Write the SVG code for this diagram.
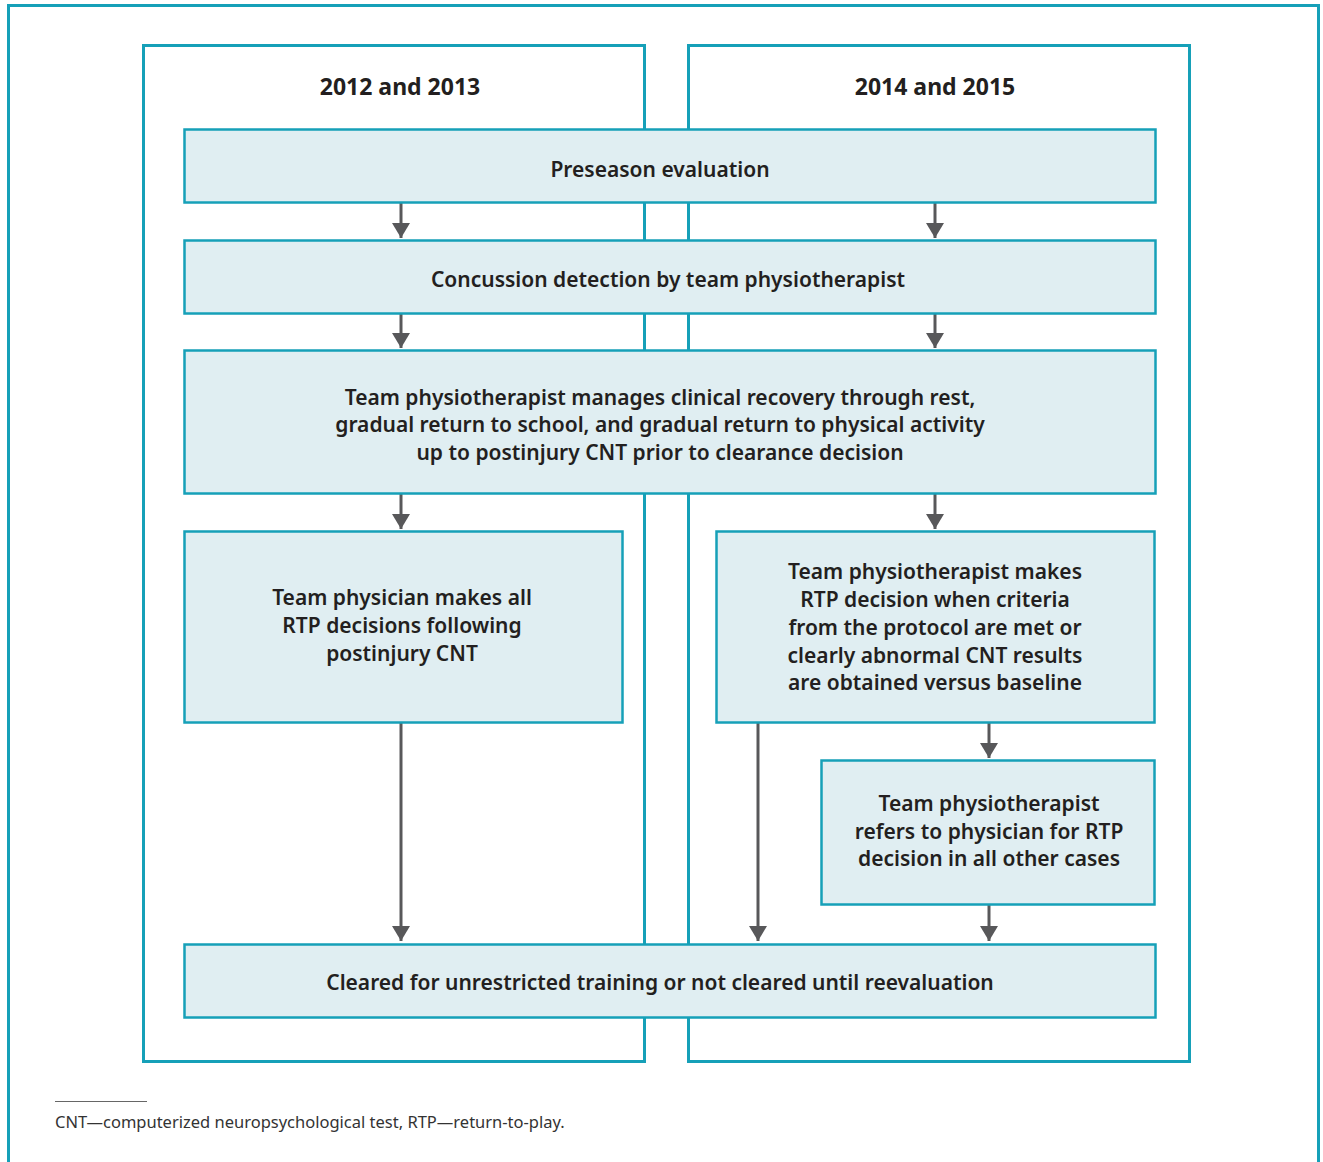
<svg xmlns="http://www.w3.org/2000/svg" width="1323" height="1162" viewBox="0 0 1323 1162">
<defs>
<style>
.frame{fill:none;stroke:#16a0b8;stroke-width:3}
.box{fill:#e0eef2;stroke:#16a0b8;stroke-width:2.5}
.t{font-family:"Noto Sans","Liberation Sans",sans-serif;font-weight:600;font-size:21px;fill:#231f20;text-anchor:middle}
.h{font-family:"Noto Sans","Liberation Sans",sans-serif;font-weight:700;font-size:23px;fill:#231f20;text-anchor:middle}
.c{stroke:#58585a;stroke-width:3;fill:none}
.fn{font-family:"Noto Sans","Liberation Sans",sans-serif;font-weight:400;font-size:16.5px;fill:#333}
</style>
<marker id="ah" viewBox="0 0 15 18" refX="15" refY="9" markerWidth="15" markerHeight="18" markerUnits="userSpaceOnUse" orient="auto">
<path d="M0,0 L15,9 L0,18 Z" fill="#58585a"/>
</marker>
</defs>
<rect width="1323" height="1162" fill="#fff"/>
<rect class="frame" x="8.5" y="5.5" width="1310" height="1170"/>
<g id="panel-left">
<rect class="frame" x="143.5" y="45.5" width="501" height="1016"/>
<text class="h" x="400" y="95">2012 and 2013</text>
</g>
<g id="panel-right">
<rect class="frame" x="688.5" y="45.5" width="501" height="1016"/>
<text class="h" x="935" y="95">2014 and 2015</text>
</g>
<g id="connectors">
<line class="c" x1="401" y1="203" x2="401" y2="238" marker-end="url(#ah)"/>
<line class="c" x1="935" y1="203" x2="935" y2="238" marker-end="url(#ah)"/>
<line class="c" x1="401" y1="314" x2="401" y2="348" marker-end="url(#ah)"/>
<line class="c" x1="935" y1="314" x2="935" y2="348" marker-end="url(#ah)"/>
<line class="c" x1="401" y1="494" x2="401" y2="529" marker-end="url(#ah)"/>
<line class="c" x1="935" y1="494" x2="935" y2="529" marker-end="url(#ah)"/>
<line class="c" x1="401" y1="723" x2="401" y2="941" marker-end="url(#ah)"/>
<line class="c" x1="758" y1="723" x2="758" y2="941" marker-end="url(#ah)"/>
<line class="c" x1="989" y1="723" x2="989" y2="758" marker-end="url(#ah)"/>
<line class="c" x1="989" y1="905" x2="989" y2="941" marker-end="url(#ah)"/>
</g>
<g id="n-preseason">
<rect class="box" x="184.5" y="129.5" width="971" height="73"/>
<text class="t" x="660" y="177">Preseason evaluation</text>
</g>
<g id="n-detection">
<rect class="box" x="184.5" y="240.5" width="971" height="73"/>
<text class="t" x="668" y="287">Concussion detection by team physiotherapist</text>
</g>
<g id="n-manages">
<rect class="box" x="184.5" y="350.5" width="971" height="143"/>
<text class="t" x="660" y="405">Team physiotherapist manages clinical recovery through rest,</text>
<text class="t" x="660" y="432">gradual return to school, and gradual return to physical activity</text>
<text class="t" x="660" y="460">up to postinjury CNT prior to clearance decision</text>
</g>
<g id="n-physician">
<rect class="box" x="184.5" y="531.5" width="438" height="191"/>
<text class="t" x="402" y="605">Team physician makes all</text>
<text class="t" x="402" y="633">RTP decisions following</text>
<text class="t" x="402" y="661">postinjury CNT</text>
</g>
<g id="n-physio-decision">
<rect class="box" x="716.5" y="531.5" width="438" height="191"/>
<text class="t" x="935" y="579">Team physiotherapist makes</text>
<text class="t" x="935" y="607">RTP decision when criteria</text>
<text class="t" x="935" y="635">from the protocol are met or</text>
<text class="t" x="935" y="663">clearly abnormal CNT results</text>
<text class="t" x="935" y="690">are obtained versus baseline</text>
</g>
<g id="n-refers">
<rect class="box" x="821.5" y="760.5" width="333" height="144"/>
<text class="t" x="989" y="811">Team physiotherapist</text>
<text class="t" x="989" y="839">refers to physician for RTP</text>
<text class="t" x="989" y="866">decision in all other cases</text>
</g>
<g id="n-cleared">
<rect class="box" x="184.5" y="944.5" width="971" height="73"/>
<text class="t" x="660" y="990">Cleared for unrestricted training or not cleared until reevaluation</text>
</g>
<g id="footnote">
<line x1="55" y1="1101.5" x2="147" y2="1101.5" stroke="#666" stroke-width="1"/>
<text class="fn" x="55" y="1128">CNT—computerized neuropsychological test, RTP—return-to-play.</text>
</g>
</svg>
